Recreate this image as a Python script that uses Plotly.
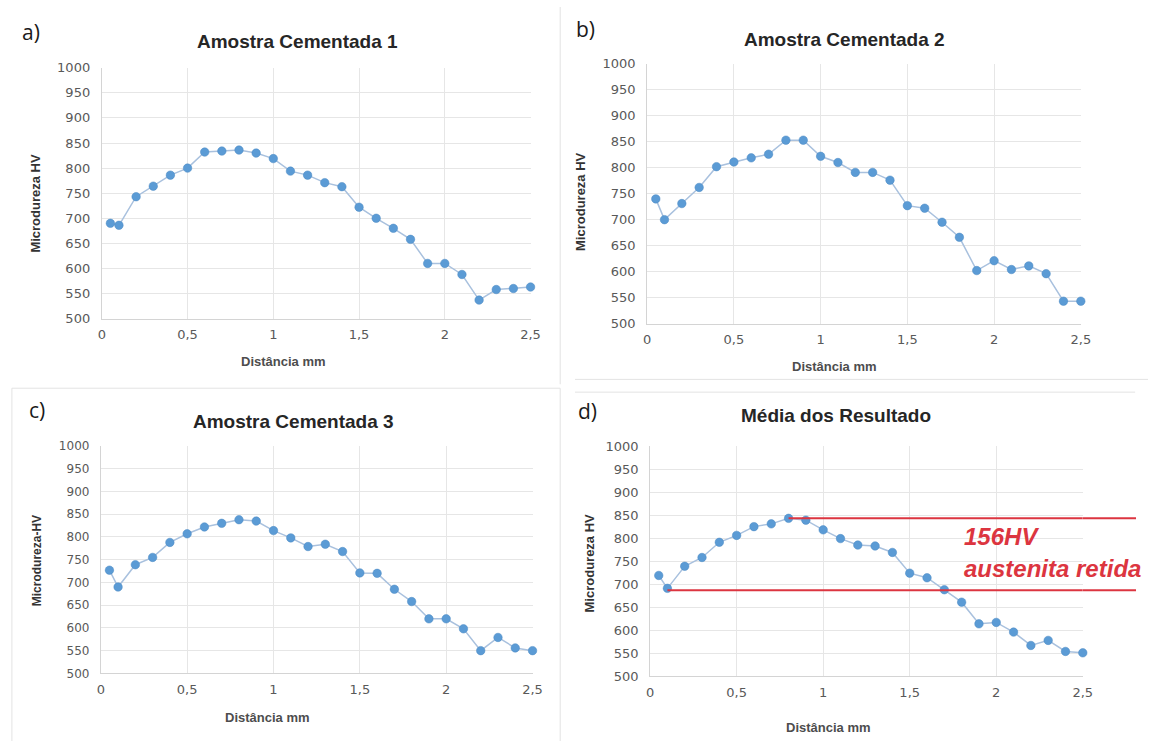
import plotly.graph_objects as go

# ---------------- data ----------------
distance_mm = [0.05, 0.1, 0.2, 0.3, 0.4, 0.5, 0.6, 0.7, 0.8, 0.9, 1.0, 1.1, 1.2,
               1.3, 1.4, 1.5, 1.6, 1.7, 1.8, 1.9, 2.0, 2.1, 2.2, 2.3, 2.4, 2.5]

amostra_1 = [690, 686, 743, 764, 786, 800, 832, 834, 836, 830, 819, 794, 786,
             771, 763, 722, 700, 680, 658, 610, 610, 588, 537, 558, 560, 563]
amostra_2 = [740, 700, 731, 762, 802, 811, 819, 826, 853, 853, 822, 810, 791,
             791, 776, 727, 722, 695, 666, 602, 621, 604, 611, 596, 543, 543]
amostra_3 = [727, 690, 739, 755, 788, 807, 822, 830, 838, 835, 814, 798, 779,
             784, 768, 721, 720, 685, 658, 620, 620, 598, 550, 579, 556, 550]
media = [719, 691, 739, 758, 791, 806, 825, 831, 843, 839, 818, 799, 785,
         783, 769, 724, 714, 688, 661, 614, 617, 596, 567, 578, 554, 551]

panel_titles = ["Amostra Cementada 1", "Amostra Cementada 2",
                "Amostra Cementada 3", "Média dos Resultado"]
panel_letters = ["a)", "b)", "c)", "d)"]
y_titles = ["Microdureza HV", "Microdureza HV", "Microdureza-HV", "Microdureza HV"]
x_title = "Distância mm"

x_tick_vals = [0, 0.5, 1, 1.5, 2, 2.5]
x_tick_text = ["0", "0,5", "1", "1,5", "2", "2,5"]
y_tick_vals = [500, 550, 600, 650, 700, 750, 800, 850, 900, 950, 1000]

ref_levels = [843, 687]      # retained austenite band (156 HV)
ref_start_x = [0.8, 0.1]
ref_label_1 = "156HV"
ref_label_2 = "austenita retida"

series = [amostra_1, amostra_2, amostra_3, media]

# ---------------- layout geometry (pixels) ----------------
W, H = 1158, 749
# plot areas: (left, right, top, bottom)
areas = [(99, 533, 62, 318), (651, 1090, 58, 323),
         (98, 535, 448, 680), (654, 1092, 448, 683)]
title_pos = [(297, 35), (851, 33), (293, 423), (842, 417)]
letter_pos = [(27, 26), (589, 22), (33, 411), (591, 412)]
xtitle_pos = [(283, 362), (841, 367), (267, 725), (835, 735)]
ytitle_pos = [(32, 200), (583, 198), (33, 565), (593, 567)]
ytitle_size = [13, 13, 12, 13]

def px(x):
    return x / W

def py(y):
    return 1 - y / H

fig = go.Figure()

line_col = "#a9c1de"
mark_col = "#5b9bd5"
grid_col = "#e6e6e6"
axis_col = "#d4d4d4"
tick_col = "#595959"
red = "#dc3540"

layout = dict(width=W, height=H, margin=dict(l=0, r=0, t=0, b=0),
              paper_bgcolor="white", plot_bgcolor="white", showlegend=False,
              font=dict(family="Liberation Sans, Arial, sans-serif"))

annotations = []
shapes = []

for i, (ys, area) in enumerate(zip(series, areas)):
    n = i + 1
    xa = "x" if n == 1 else f"x{n}"
    ya = "y" if n == 1 else f"y{n}"
    fig.add_trace(go.Scatter(
        x=distance_mm, y=ys, xaxis=xa, yaxis=ya, mode="lines+markers",
        line=dict(color=line_col, width=1.5),
        marker=dict(color=mark_col, size=8.5, line=dict(color="#4a88c2", width=0.5)),
        cliponaxis=False))
    l, r, t, b = area
    xkey = "xaxis" if n == 1 else f"xaxis{n}"
    ykey = "yaxis" if n == 1 else f"yaxis{n}"
    layout[xkey] = dict(domain=[px(l), px(r)], anchor=ya, range=[0, 2.5],
                        tickvals=x_tick_vals, ticktext=x_tick_text,
                        showgrid=True, gridcolor=grid_col, gridwidth=1,
                        showline=True, linecolor=axis_col, linewidth=1,
                        zeroline=False, ticks="", ticklabelstandoff=4,
                        tickfont=dict(family="DejaVu Sans", size=13, color=tick_col))
    layout[ykey] = dict(domain=[py(b), py(t)], anchor=xa, range=[500, 1000],
                        tickvals=y_tick_vals, showgrid=True, gridcolor=grid_col,
                        gridwidth=1, showline=True, linecolor=axis_col, linewidth=1,
                        zeroline=False, ticks="", ticklabelstandoff=8,
                        tickfont=dict(family="DejaVu Sans", size=13 if n != 3 else 12,
                                      color=tick_col))
    tx, ty = title_pos[i]
    annotations.append(dict(text=f"<b>{panel_titles[i]}</b>", x=px(tx), y=py(ty),
                            xref="paper", yref="paper", showarrow=False,
                            xanchor="center", yanchor="middle",
                            font=dict(size=19, color="#262626")))
    lx, ly = letter_pos[i]
    annotations.append(dict(text=panel_letters[i], x=px(lx), y=py(ly),
                            xref="paper", yref="paper", showarrow=False,
                            xanchor="center", yanchor="middle",
                            font=dict(family="Open Sans", size=21, color="#1a1a1a")))
    xx, xy = xtitle_pos[i]
    annotations.append(dict(text=f"<b>{x_title}</b>", x=px(xx), y=py(xy),
                            xref="paper", yref="paper", showarrow=False,
                            xanchor="center", yanchor="middle",
                            font=dict(size=13, color="#4d4d4d")))
    yx, yy = ytitle_pos[i]
    annotations.append(dict(text=f"<b>{y_titles[i]}</b>", x=px(yx), y=py(yy),
                            xref="paper", yref="paper", showarrow=False,
                            textangle=-90, xanchor="center", yanchor="middle",
                            font=dict(size=ytitle_size[i], color="#333333")))

# red reference lines in panel d (inside plot + extension to the right)
for lvl, x0 in zip(ref_levels, ref_start_x):
    shapes.append(dict(type="line", xref="x4", yref="y4", x0=x0, x1=2.5,
                       y0=lvl, y1=lvl, line=dict(color=red, width=2), layer="above"))
    shapes.append(dict(type="line", xref="x4 domain", yref="y4", x0=1.0, x1=1.123,
                       y0=lvl, y1=lvl, line=dict(color=red, width=2), layer="above"))

annotations.append(dict(text=f"<b><i>{ref_label_1}</i></b>", xref="x4 domain", yref="y4",
                        x=0.72, y=804, xanchor="left", yanchor="middle", showarrow=False,
                        font=dict(size=24, color=red)))
annotations.append(dict(text=f"<b><i>{ref_label_2}</i></b>", xref="x4 domain", yref="y4",
                        x=0.72, y=734, xanchor="left", yanchor="middle", showarrow=False,
                        font=dict(size=24, color=red)))

# faint panel borders
border = "#e3e3e3"
shapes += [
    dict(type="line", xref="paper", yref="paper", x0=px(563), x1=px(563), y0=py(0), y1=py(385),
         line=dict(color=border, width=1)),
    dict(type="line", xref="paper", yref="paper", x0=px(8), x1=px(563), y0=py(389), y1=py(389),
         line=dict(color=border, width=1)),
    dict(type="line", xref="paper", yref="paper", x0=px(8), x1=px(8), y0=py(389), y1=py(749),
         line=dict(color=border, width=1)),
    dict(type="line", xref="paper", yref="paper", x0=px(563), x1=px(563), y0=py(389), y1=py(749),
         line=dict(color=border, width=1)),
    dict(type="line", xref="paper", yref="paper", x0=px(578), x1=px(1158), y0=py(380), y1=py(380),
         line=dict(color=border, width=1)),
    dict(type="line", xref="paper", yref="paper", x0=px(578), x1=px(1145), y0=py(393), y1=py(393),
         line=dict(color=border, width=1)),
]

layout["annotations"] = annotations
layout["shapes"] = shapes
fig.update_layout(**layout)

fig.write_html("out.html", config={"displayModeBar": False},
               post_script="document.body.style.margin='0';document.body.style.overflow='hidden';")
